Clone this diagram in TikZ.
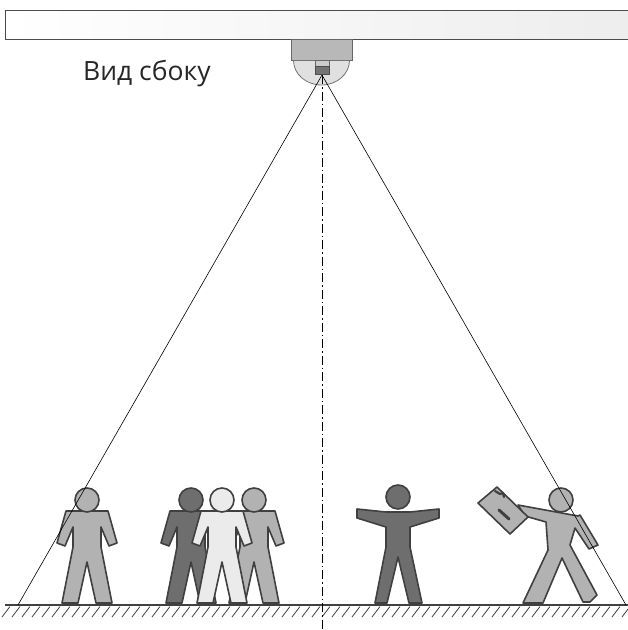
\documentclass[tikz,border=0pt]{standalone}
\usepackage{fontspec}
\setmainfont{Open Sans}
\begin{document}
\begin{tikzpicture}[x=1pt,y=-1pt,
  outline/.style={draw=black!75,line width=1.6pt,line join=round},
  figlight/.style={outline,fill=black!30},
  figdark/.style={outline,fill=black!57},
  figwhite/.style={outline,fill=black!8},
  ray/.style={draw=black,line width=0.6pt},
  axisline/.style={draw=black,line width=0.7pt,dash pattern=on 9pt off 3pt on 1.5pt off 3pt},
  hatch/.style={draw=black!75,line width=0.8pt}]
\useasboundingbox (0,0) rectangle (628,630);

% ceiling slab
\shade[left color=white,right color=black!7] (5.5,10) rectangle (632,39.5);
\draw[draw=black!70,line width=0.9pt] (632,10) -- (5.5,10) -- (5.5,39.5) -- (632,39.5);

% dome camera
\draw[draw=black!60,line width=0.8pt,fill=black!28] (291,39.5) rectangle (352.5,60.5);
\draw[draw=black!55,line width=0.8pt,fill=black!12] (293.5,60.5) arc[start angle=180,end angle=0,x radius=28,y radius=24.5] -- cycle;
\draw[draw=black!60,line width=0.6pt,fill=black!20] (315,60.5) rectangle (329,66.5);
\draw[draw=black!70,line width=0.6pt,fill=black!55] (315,66.5) rectangle (329,74.5);
\coordinate (lens) at (322,75);

% caption
\node[anchor=base west,inner sep=0pt,font=\fontsize{26.5}{32}\selectfont,text=black!85] (caption) at (83,80) {Вид сбоку};

% standing figure template
\newcommand\standfig[2]{%
  \begin{scope}[shift={(#1,605)}]
    \draw[#2] (-21,-94) -- (-30,-62) -- (-22,-59) -- (-14,-78) -- (-14,-58) -- (-25,-2) -- (-9,-2) -- (0,-43)
      -- (9,-2) -- (25,-2) -- (14,-58) -- (14,-78) -- (22,-59) -- (30,-62) -- (21,-94) -- cycle;
    \draw[#2] (0,-105) circle[radius=12];
  \end{scope}}

% people on the left
\standfig{87}{figlight}
\standfig{191}{figdark}
\standfig{254}{figlight}
\standfig{222}{figwhite}

% figure with arms spread
\begin{scope}[shift={(398,605)}]
  \draw[figdark] (-41,-96) -- (-41,-87) -- (-12,-78) -- (-12,-58) -- (-23,-2) -- (-11,-2) -- (0,-48)
    -- (11,-2) -- (24,-2) -- (12,-58) -- (12,-78) -- (41,-87) -- (41,-96) -- (12,-93) -- (-12,-93) -- cycle;
  \draw[figdark] (0,-108) circle[radius=12];
\end{scope}

% walking figure holding a sign
\draw[figlight] (518,505) -- (578,516) -- (580,515) -- (598,545) -- (589,549) -- (575,528) -- (570,545)
  -- (597,595) -- (590,602) -- (583,602) -- (562,558) -- (543,603) -- (523,603) -- (548,550) -- (546,522)
  -- (525,516) -- cycle;
\draw[figlight] (561,500) circle[radius=12];
\draw[figlight] (478,503) -- (497,487) -- (528,517) -- (510,534) -- cycle;
\draw[draw=black!75,line width=3pt,line cap=round] (499,510) -- (509,519);
\draw[draw=black!75,line width=2.2pt,line cap=round,line join=round] (495,491) -- (500,494) -- (503,493) -- (504,497);

% floor
\draw[draw=black!75,line width=2.6pt] (5,605) -- (632,605);
\foreach \i in {0,...,62} {
  \draw[hatch] ({10+10*\i},606.5) -- ({2+10*\i},617);
}

% field of view and optical axis
\coordinate (fovL) at (18,605);
\coordinate (fovR) at (626,605);
\coordinate (axisend) at (322,630);
\draw[ray] (lens) -- (fovL);
\draw[ray] (lens) -- (fovR);
\draw[axisline] (lens) -- (axisend);
\end{tikzpicture}
\end{document}
